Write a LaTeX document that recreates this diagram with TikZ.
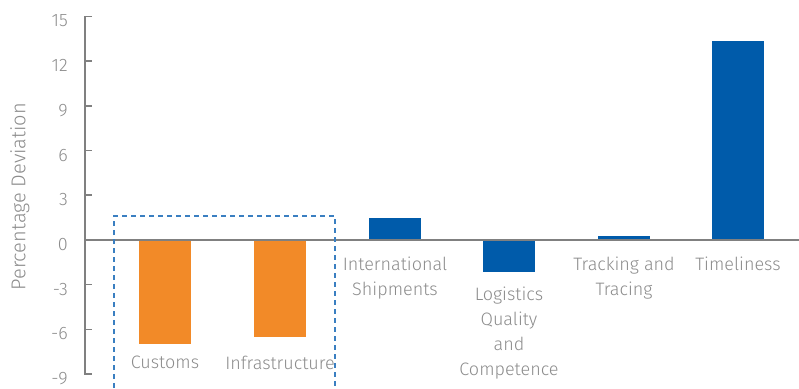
\documentclass[tikz,border=0pt]{standalone}
\usepackage{fontspec}
\setmainfont{Fira Sans Light}
\usepackage{xcolor}
\usepackage{tikz}

\definecolor{axisgray}{HTML}{808080}
\definecolor{labelgray}{HTML}{8C8C8C}
\definecolor{barorange}{HTML}{F28A28}
\definecolor{barblue}{HTML}{005BAA}
\definecolor{boxblue}{HTML}{3A7FC1}

\begin{document}
\begin{tikzpicture}[x=1pt,y=14.9pt,
	axis/.style={axisgray,line width=1.6pt},
	txt/.style={labelgray,font=\fontsize{18}{25}\selectfont,inner sep=0pt},
	lbl/.style={txt,align=center,anchor=north}]
	\useasboundingbox (0,-9.933) rectangle (799,16.107);

	% bars
	\fill[barorange] (139,0) rectangle (191,-7);
	\fill[barorange] (254,0) rectangle (306,-6.5);
	\fill[barblue] (369,0) rectangle (421,1.5);
	\fill[barblue] (483,0) rectangle (535,-2.15);
	\fill[barblue] (598,0) rectangle (650,0.27);
	\fill[barblue] (712,0) rectangle (764,13.35);

	% axes
	\draw[axis] (85,0) -- (799,0);
	\draw[axis] (92,15) -- (85,15) -- (85,-9) -- (92,-9);
	\foreach \v in {-6,-3,...,12}
		\draw[axis] (85,\v) -- (92,\v);
	\foreach \v in {-9,-6,...,15}
		\node[txt,anchor=east] (tick\v) at (68,\v-0.3) {\v};
	\node[txt,rotate=90,font=\fontsize{20}{24}\selectfont] (ylabel) at (20,2.9) {Percentage Deviation};

	% category labels
	\node[lbl] (customs) at (165,-7.79) {Customs};
	\node[lbl] (infra) at (280,-7.79) {Infrastructure};
	\node[lbl] (intl) at (395,-1.1) {International\\Shipments};
	\node[lbl] (logq) at (509,-3.15) {Logistics\\Quality\\and\\Competence};
	\node[lbl] (track) at (624,-1.1) {Tracking and\\Tracing};
	\node[lbl] (time) at (738,-1.1) {Timeliness};

	% dashed group box
	\draw[boxblue,line width=1.2pt,dash pattern=on 5pt off 4pt] (114,-9.933) |- (335,1.61) -- (335,-9.933);
\end{tikzpicture}
\end{document}
